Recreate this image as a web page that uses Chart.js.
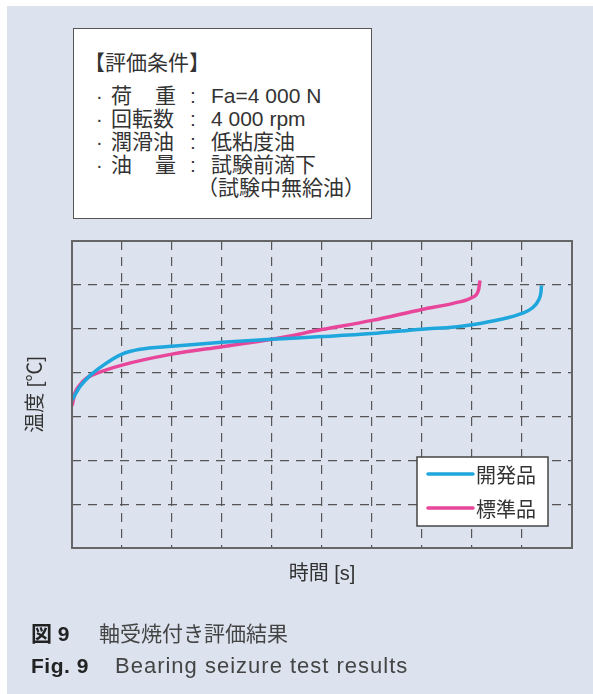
<!DOCTYPE html>
<html lang="ja">
<head>
<meta charset="utf-8">
<title>軸受焼付き評価結果</title>
<script src="https://cdn.jsdelivr.net/npm/chart.js@4"></script>
<style>
  html, body { margin: 0; padding: 0; }
  body {
    width: 593px; height: 694px; position: relative; overflow: hidden;
    background: #fff; color: #333;
    font-family: "Liberation Sans", "Noto Sans CJK JP", sans-serif;
  }
  .panel { position: absolute; left: 7px; top: 6px; right: 0; bottom: 0; background: #dce3ee; }
  #chart { position: absolute; left: 0; top: 0; }
  .cond {
    position: absolute; left: 73px; top: 28px; width: 297px; height: 189px;
    background: #fff; border: 1.5px solid #555; font-size: 21px;
  }
  .row { position: absolute; left: 0; height: 24px; line-height: 24px; white-space: nowrap; }
  .row span { position: absolute; top: 0; }
  .row .dot { font-size: 20px; }
  .caption { position: absolute; left: 0; height: 28px; line-height: 28px; font-size: 21px; color: #444; white-space: nowrap; }
  .caption span { position: absolute; top: 0; }
  .caption b { position: absolute; top: 0; left: 31px; color: #222; }
  .en { font-size: 22px; letter-spacing: 1px; }
</style>
</head>
<body>
<div class="panel"></div>
<canvas id="chart" width="593" height="694"></canvas>

<div class="cond">
  <div class="row" style="top:22px"><span style="left:10px">【評価条件】</span></div>
  <div class="row" style="top:55px">
    <span class="dot" style="left:22px">·</span>
    <span style="left:37px">荷</span><span style="left:81px">重</span>
    <span style="left:116px">:</span><span style="left:137px">Fa=4 000 N</span>
  </div>
  <div class="row" style="top:78px">
    <span class="dot" style="left:22px">·</span><span style="left:37px">回転数</span>
    <span style="left:116px">:</span><span style="left:137px">4 000 rpm</span>
  </div>
  <div class="row" style="top:101px">
    <span class="dot" style="left:22px">·</span><span style="left:37px">潤滑油</span>
    <span style="left:116px">:</span><span style="left:137px">低粘度油</span>
  </div>
  <div class="row" style="top:124px">
    <span class="dot" style="left:22px">·</span>
    <span style="left:37px">油</span><span style="left:81px">量</span>
    <span style="left:116px">:</span><span style="left:137px">試験前滴下</span>
  </div>
  <div class="row" style="top:147px"><span style="left:123px">（試験中無給油）</span></div>
</div>

<div class="caption" style="top:620px"><b>図 9</b><span style="left:99px">軸受焼付き評価結果</span></div>
<div class="caption" style="top:652px"><b style="letter-spacing:0.5px">Fig. 9</b><span class="en" style="left:115px">Bearing seizure test results</span></div>

<script>
// elapsed time (grid units) and temperature (grid units)
const devTime = [0, 0.16, 0.36, 0.63, 1.0, 1.36, 2.0, 3.0, 4.0, 5.0, 6.0, 7.0, 7.66, 8.0, 8.56, 9.0, 9.19, 9.33, 9.38, 9.39];
const devTemp = [3.37, 3.68, 3.93, 4.17, 4.42, 4.53, 4.60, 4.69, 4.76, 4.82, 4.89, 4.99, 5.04, 5.09, 5.21, 5.35, 5.46, 5.65, 5.84, 5.99];
const stdTime = [0, 0.06, 0.16, 0.29, 0.49, 1.0, 2.0, 3.0, 4.0, 5.0, 6.0, 7.0, 7.66, 8.0, 8.13, 8.16];
const stdTemp = [3.24, 3.53, 3.72, 3.87, 3.98, 4.17, 4.42, 4.59, 4.76, 4.98, 5.19, 5.44, 5.59, 5.71, 5.88, 6.10];

const seriesLabels = ["開発品", "標準品"];
const seriesColors = ["#1fa6dd", "#e8469a"];

const xMax = 10;
const yMax = 7;

const toPoints = (xs, ys) => xs.map((x, i) => ({ x: x, y: ys[i] }));

Chart.defaults.font.family = '"Liberation Sans", "Noto Sans CJK JP", sans-serif';
Chart.defaults.color = "#333";

// solid frame around the plot area
const frame = {
  id: "frame",
  afterDatasetsDraw(chart) {
    const { ctx, chartArea: a } = chart;
    ctx.save();
    ctx.strokeStyle = "#666";
    ctx.lineWidth = 2;
    ctx.strokeRect(a.left, a.top, a.right - a.left, a.bottom - a.top);
    ctx.restore();
  },
};

// boxed legend in the lower right corner of the plot
const boxLegend = {
  id: "boxLegend",
  afterDraw(chart) {
    const { ctx, chartArea: a } = chart;
    const w = 131, h = 69;
    const x0 = a.right - 24 - w, y0 = a.bottom - 22 - h;
    ctx.save();
    ctx.fillStyle = "#fff";
    ctx.fillRect(x0, y0, w, h);
    ctx.strokeStyle = "#444";
    ctx.lineWidth = 1.5;
    ctx.strokeRect(x0, y0, w, h);
    ctx.font = '20px "Noto Sans CJK JP"';
    ctx.textBaseline = "middle";
    chart.data.datasets.forEach((ds, i) => {
      const y = y0 + 17 + i * 34;
      ctx.strokeStyle = ds.borderColor;
      ctx.lineWidth = 3.5;
      ctx.lineCap = "round";
      ctx.beginPath();
      ctx.moveTo(x0 + 11, y);
      ctx.lineTo(x0 + 56, y);
      ctx.stroke();
      ctx.fillStyle = "#333";
      ctx.fillText(ds.label, x0 + 59, y + 1);
    });
    ctx.restore();
  },
};

const gridOpts = { color: "#555", lineWidth: 1.2, drawTicks: false };

new Chart(document.getElementById("chart"), {
  type: "scatter",
  data: {
    datasets: [
      {
        label: seriesLabels[0],
        data: toPoints(devTime, devTemp),
        borderColor: seriesColors[0],
      },
      {
        label: seriesLabels[1],
        data: toPoints(stdTime, stdTemp),
        borderColor: seriesColors[1],
      },
    ],
  },
  options: {
    responsive: false,
    animation: false,
    showLine: true,
    layout: { padding: { left: 0, top: 241, right: 21, bottom: 106 } },
    elements: {
      point: { radius: 0, hoverRadius: 0 },
      line: { borderWidth: 3.5, cubicInterpolationMode: "monotone", fill: false },
    },
    plugins: {
      legend: { display: false },
      tooltip: { enabled: false },
    },
    scales: {
      x: {
        min: 0,
        max: xMax,
        ticks: { display: false, stepSize: 1 },
        grid: gridOpts,
        border: { display: false, dash: [9, 7] },
        title: { display: true, text: "時間 [s]", font: { size: 20 }, padding: { top: 0, bottom: 2 } },
        afterFit(scale) { scale.height = 40; },
      },
      y: {
        min: 0,
        max: yMax,
        ticks: { display: false, stepSize: 1 },
        grid: gridOpts,
        border: { display: false, dash: [9, 7] },
        title: { display: true, text: "温度 [℃]", font: { size: 20 }, padding: { top: 24, bottom: 0 } },
        afterFit(scale) { scale.width = 72; },
      },
    },
  },
  plugins: [frame, boxLegend],
});
</script>
</body>
</html>
